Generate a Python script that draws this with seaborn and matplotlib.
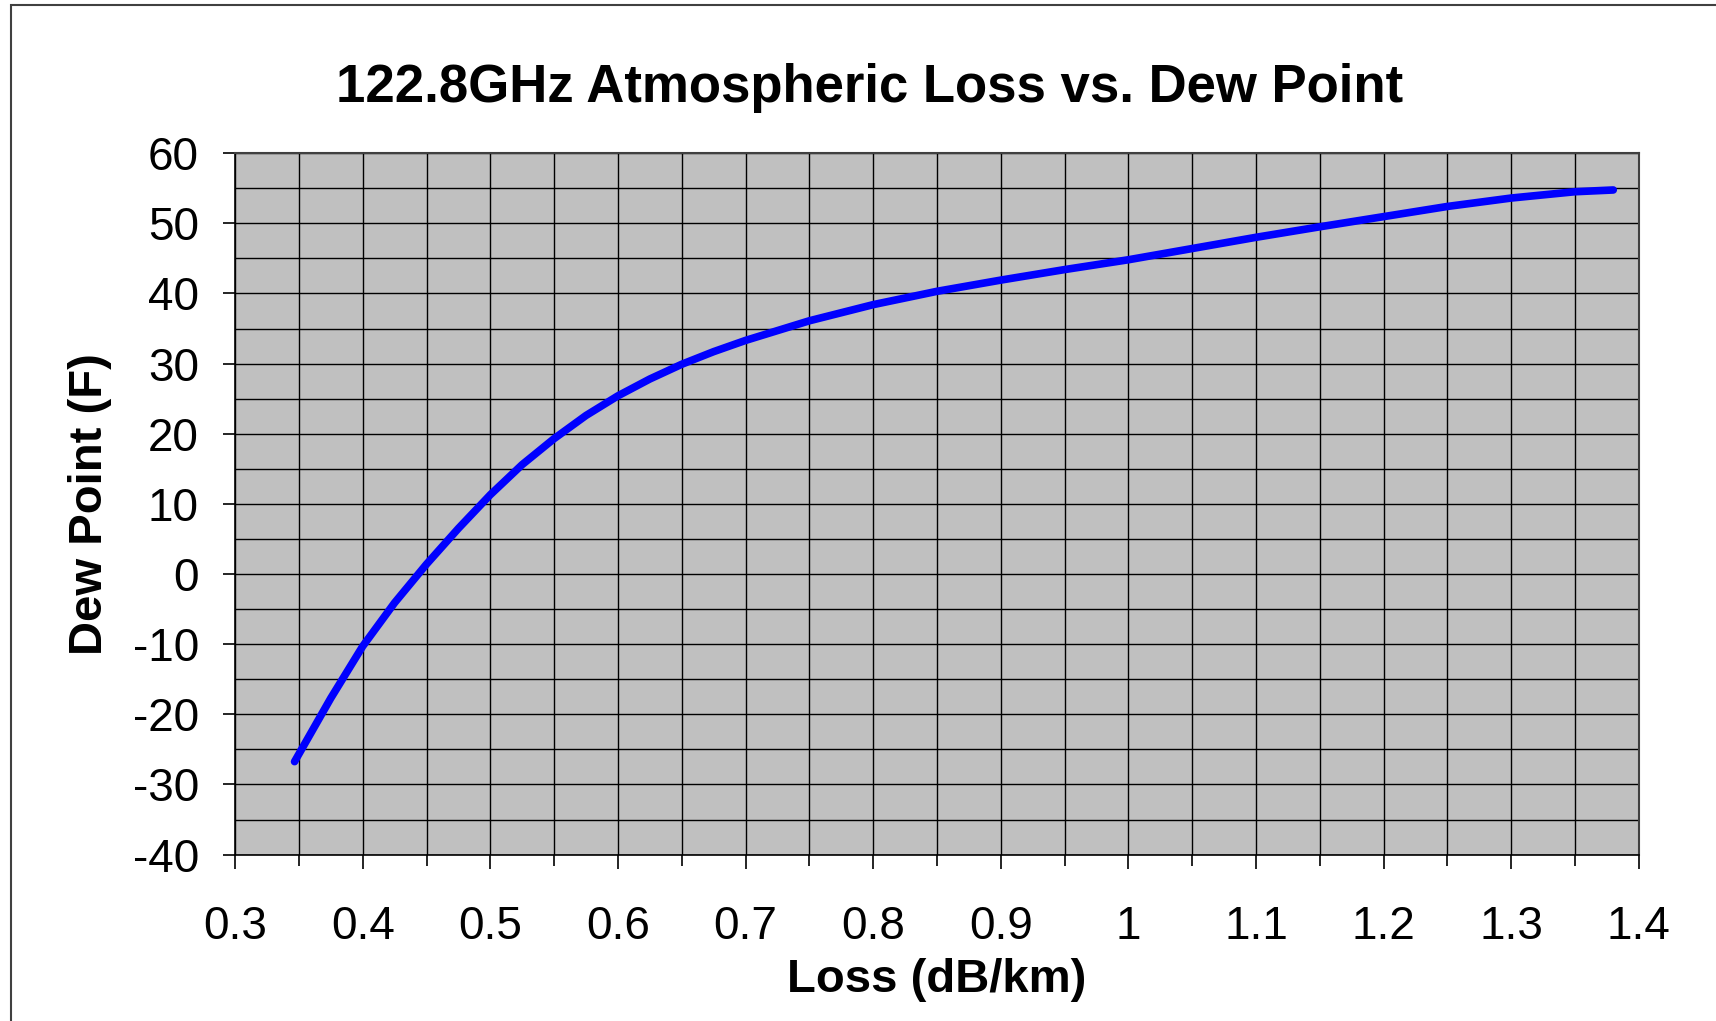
import numpy as np
import pandas as pd
import matplotlib
matplotlib.use("Agg")
import matplotlib.pyplot as plt
import seaborn as sns
from matplotlib.patches import Rectangle
from matplotlib.ticker import MultipleLocator

# ==========================
# DATA
# ==========================
loss_db_km = [0.3466, 0.375, 0.40, 0.425, 0.45, 0.475, 0.50, 0.525, 0.55,
              0.575, 0.60, 0.625, 0.65, 0.675, 0.70, 0.75, 0.80, 0.85, 0.90,
              0.95, 1.00, 1.05, 1.10, 1.15, 1.20, 1.25, 1.30, 1.35, 1.38]
dew_point_f = [-26.75, -17.7, -10.3, -4.1, 1.4, 6.5, 11.3, 15.6, 19.3,
               22.6, 25.4, 27.8, 29.9, 31.7, 33.3, 36.1, 38.4, 40.3, 41.9,
               43.4, 44.8, 46.4, 48.0, 49.5, 50.95, 52.4, 53.6, 54.5, 54.75]
x_tick_labels = ["0.3", "0.4", "0.5", "0.6", "0.7", "0.8", "0.9", "1",
                 "1.1", "1.2", "1.3", "1.4"]

df = pd.DataFrame({"loss": loss_db_km, "dew": dew_point_f})

# ==========================
# STYLE
# ==========================
sns.set_style("white")
plt.rcParams['font.family'] = ['Liberation Sans', 'DejaVu Sans']
plt.rcParams['axes.unicode_minus'] = False
plt.rcParams['text.color'] = 'black'
plt.rcParams['axes.labelcolor'] = 'black'
plt.rcParams['xtick.color'] = 'black'
plt.rcParams['ytick.color'] = 'black'

fig = plt.figure(figsize=(17.16, 10.21), dpi=100)
ax = fig.add_axes([0.137, 0.163, 0.818, 0.687])
ax.set_facecolor("#c0c0c0")

# ==========================
# PLOT
# ==========================
sns.lineplot(data=df, x="loss", y="dew", sort=False, estimator=None,
             color="#0000ff", linewidth=5.5, ax=ax,
             solid_capstyle="round", solid_joinstyle="round")

ax.set_xlim(0.3, 1.4)
ax.set_ylim(-40, 60)
ax.xaxis.set_minor_locator(MultipleLocator(0.05))
ax.yaxis.set_major_locator(MultipleLocator(10))
ax.yaxis.set_minor_locator(MultipleLocator(5))
ax.set_xticks(np.round(np.arange(0.3, 1.41, 0.1), 1))
ax.set_xticklabels(x_tick_labels)

ax.grid(which="both", color="black", linewidth=1.0)
ax.set_axisbelow(True)

ax.tick_params(axis="x", which="major", length=10, width=1.2, direction="out",
               labelsize=33, pad=26, bottom=True)
ax.tick_params(axis="x", which="minor", length=8, width=1.2, direction="out",
               bottom=True)
ax.tick_params(axis="y", which="major", length=9, width=1.2, direction="out",
               labelsize=33, pad=17, left=True)
ax.tick_params(axis="y", which="minor", length=0, left=False)

for side in ["top", "right"]:
    ax.spines[side].set_color("#404040")
    ax.spines[side].set_linewidth(1.5)
for side in ["left", "bottom"]:
    ax.spines[side].set_color("black")
    ax.spines[side].set_linewidth(1.2)

ax.set_xlabel("Loss (dB/km)", fontsize=34, fontweight="bold", labelpad=7)
ax.set_ylabel("Dew Point (F)", fontsize=34, fontweight="bold", labelpad=15)
fig.text(0.507, 0.914, "122.8GHz Atmospheric Loss vs. Dew Point",
         fontsize=38, fontweight="bold", ha="center", va="center")

# chart border
fig.add_artist(Rectangle((0.0065, -0.05), 1.2, 0.05 + 0.995,
                         transform=fig.transFigure, fill=False,
                         edgecolor="#404040", linewidth=1.5))

fig.savefig("out.png", dpi=100)
